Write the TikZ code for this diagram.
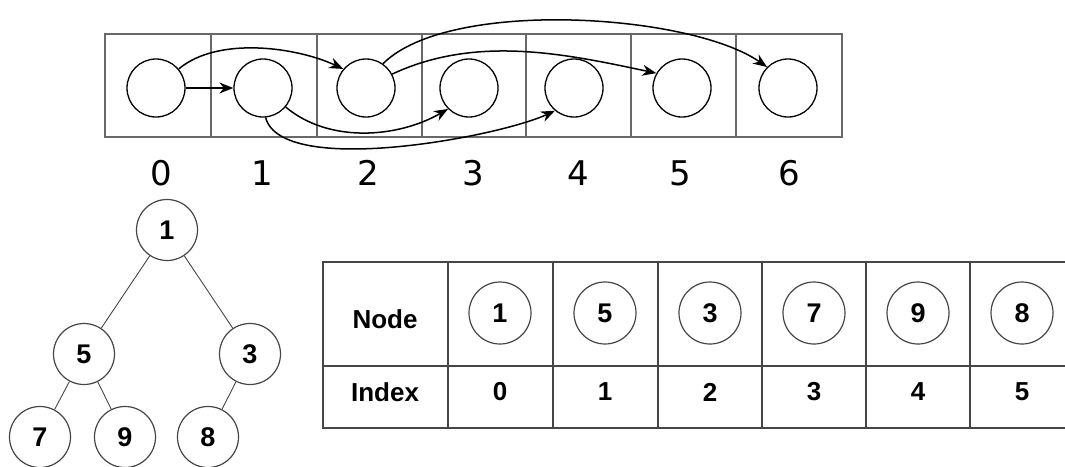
\documentclass[tikz,border=0pt]{standalone}
\usepackage{fontspec}
\setmainfont{Liberation Sans}
\newfontfamily\djv{DejaVu Sans}
\usetikzlibrary{arrows.meta}
\definecolor{boxgray}{RGB}{105,105,105}
\definecolor{linegray}{RGB}{70,70,70}
\begin{document}
\begin{tikzpicture}[x=1pt,y=-1pt,
  slot/.style={circle,draw=black,line width=1.3pt,minimum size=58pt,inner sep=0pt},
  idx/.style={font=\djv\fontsize{34}{34}\selectfont,inner sep=0pt},
  tnode/.style={circle,draw=linegray,line width=1.2pt,minimum size=61pt,inner sep=0pt,font=\bfseries\fontsize{27}{27}\selectfont},
  cell/.style={font=\bfseries\fontsize{26}{26}\selectfont,inner sep=0pt},
  arr/.style={line width=1.5pt,-{Stealth[length=14pt,width=11pt]}},
  tedge/.style={draw=linegray,line width=0.9pt}]
\useasboundingbox (0,0) rectangle (1065,466);
% top array
\draw[boxgray,line width=2.2pt] (105,34) rectangle (842,137);
\foreach \x in {211,317,422,526,631,736}{\draw[boxgray,line width=2.2pt] (\x,34) -- (\x,137);}
\foreach \i/\x in {0/156,1/263,2/366,3/469,4/574,5/682,6/788}{
  \node[slot] (c\i) at (\x,88) {};
}
\foreach \i/\x in {0/161,1/262,2/368,3/473,4/578,5/680,6/789}{
  \node[idx] (l\i) at (\x,173) {\i};
}
\draw[arr] (c0.east) -- (c1.west);
\draw[arr] (c0.40) to[out=40,in=155,looseness=0.8] (c2.140);
\draw[arr] (c2.55) to[out=45,in=145,looseness=0.62] (c6.135);
\draw[arr] (c2.28) to[out=25,in=168,looseness=0.9] (c5.150);
\draw[arr] (c1.-40) to[out=-40,in=-150,looseness=0.9] (c3.-135);
\draw[arr] (c1.-85) to[out=-75,in=-155,looseness=0.55] (c4.-130);
% tree
\node[tnode] (t1) at (167,230) {1};
\node[tnode] (t5) at (84,354) {5};
\node[tnode] (t3) at (250,354) {3};
\node[tnode] (t7) at (40,437) {7};
\node[tnode] (t9) at (125,437) {9};
\node[tnode] (t8) at (208,437) {8};
\draw[tedge] (t1) -- (t5);
\draw[tedge] (t1) -- (t3);
\draw[tedge] (t5) -- (t7);
\draw[tedge] (t5) -- (t9);
\draw[tedge] (t3) -- (t8);
% table
\draw[linegray,line width=1.2pt] (1066,262) -- (323,262) -- (323,428) -- (1066,428);
\draw[linegray,line width=1.2pt] (323,366) -- (1066,366);
\foreach \x in {448,553,658,762,866,970}{\draw[linegray,line width=1.2pt] (\x,262) -- (\x,428);}
\node[cell] (hn) at (385,319) {Node};
\node[cell] (hi) at (385,392) {Index};
\foreach \i/\v/\x in {0/1/500,1/5/605,2/3/710,3/7/814,4/9/918,5/8/1022}{
  \node[tnode,minimum size=62pt] (n\i) at (\x,313) {\v};
  \node[cell] (i\i) at (\x,392) {\i};
}
\end{tikzpicture}
\end{document}
